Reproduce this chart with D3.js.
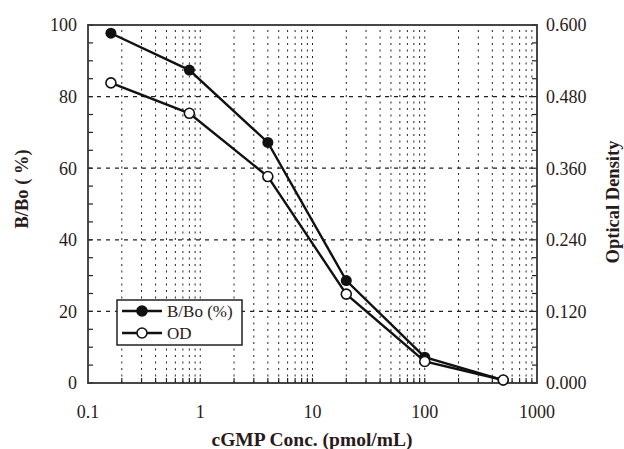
<!DOCTYPE html>
<html>
<head>
<meta charset="utf-8">
<script src="https://cdn.jsdelivr.net/npm/d3@7"></script>
<style>
  body { margin: 0; background: #fff; }
  svg { display: block; }
  text { font-family: "Liberation Serif", "Times New Roman", "DejaVu Serif", serif; fill: #2a1a1a; }
</style>
</head>
<body>
<div id="viz"></div>
<script>
// cGMP standard curve: concentration (pmol/mL) vs B/Bo and optical density
const conc = [0.16, 0.8, 4, 20, 100, 500];
const bbo = [97.7, 87.4, 67.2, 28.6, 7.2, 0.8];
const od = [0.503, 0.452, 0.346, 0.149, 0.036, 0.005];
const xTicks = [0.1, 1, 10, 100, 1000];
const yLeftTicks = [0, 20, 40, 60, 80, 100];
const yRightTicks = [0, 0.12, 0.24, 0.36, 0.48, 0.6];

const width = 624, height = 449;
const margin = { top: 25, right: 87, bottom: 66, left: 88 };
const serif = "Liberation Serif, Times New Roman, DejaVu Serif, serif";

const svg = d3.select("#viz").append("svg")
    .attr("width", width)
    .attr("height", height)
    .attr("font-family", serif);

const x = d3.scaleLog().domain([0.1, 1000]).range([margin.left, width - margin.right]);
const yL = d3.scaleLinear().domain([0, 100]).range([height - margin.bottom, margin.top]);
const yR = d3.scaleLinear().domain([0, 0.6]).range([height - margin.bottom, margin.top]);

const x0 = margin.left, x1 = width - margin.right;
const y0 = height - margin.bottom, y1 = margin.top;

// minor positions on the log axis (2..9 of each decade, plus decades)
let xGrid = [];
for (let d = 0.1; d < 1000; d *= 10) {
    for (let m = 1; m <= 9; m++) {
        const v = +(d * m).toPrecision(3);
        if (v > 0.1) xGrid.push(v);
    }
}

const grid = svg.append("g");
grid.selectAll("line.vg")
    .data(xGrid)
    .join("line")
    .attr("class", "vg")
    .attr("x1", d => x(d)).attr("x2", d => x(d))
    .attr("y1", y0).attr("y2", y1)
    .attr("stroke", "#222")
    .attr("stroke-width", 1)
    .attr("stroke-dasharray", "2,4.5");

grid.selectAll("line.hg")
    .data(yLeftTicks.slice(1, -1))
    .join("line")
    .attr("class", "hg")
    .attr("x1", x0).attr("x2", x1)
    .attr("y1", d => yL(d)).attr("y2", d => yL(d))
    .attr("stroke", "#222")
    .attr("stroke-width", 1.2)
    .attr("stroke-dasharray", "4,5");

// inward ticks
const tickLen = 5;
const minorY = d3.range(0, 101, 5);
svg.append("g").selectAll("line")
    .data(minorY)
    .join("line")
    .attr("x1", x0).attr("x2", x0 + tickLen)
    .attr("y1", d => yL(d)).attr("y2", d => yL(d))
    .attr("stroke", "#222").attr("stroke-width", 1.2);
svg.append("g").selectAll("line")
    .data(d3.range(0, 0.601, 0.03))
    .join("line")
    .attr("x1", x1).attr("x2", x1 - tickLen)
    .attr("y1", d => yR(d)).attr("y2", d => yR(d))
    .attr("stroke", "#222").attr("stroke-width", 1.2);
svg.append("g").selectAll("line")
    .data(xGrid)
    .join("line")
    .attr("x1", d => x(d)).attr("x2", d => x(d))
    .attr("y1", y0).attr("y2", y0 - tickLen)
    .attr("stroke", "#222").attr("stroke-width", 1.2);

// frame
svg.append("rect")
    .attr("x", x0).attr("y", y1)
    .attr("width", x1 - x0).attr("height", y0 - y1)
    .attr("fill", "none")
    .attr("stroke", "#333")
    .attr("stroke-width", 1.8);

// tick labels
svg.append("g").selectAll("text")
    .data(yLeftTicks)
    .join("text")
    .attr("x", x0 - 11)
    .attr("y", d => yL(d))
    .attr("dy", "0.35em")
    .attr("text-anchor", "end")
    .attr("font-size", 18)
    .text(d => d);

svg.append("g").selectAll("text")
    .data(yRightTicks)
    .join("text")
    .attr("x", x1 + 9)
    .attr("y", d => yR(d))
    .attr("dy", "0.35em")
    .attr("text-anchor", "start")
    .attr("font-size", 18)
    .text(d => d3.format(".3f")(d));

svg.append("g").selectAll("text")
    .data(xTicks)
    .join("text")
    .attr("x", d => x(d))
    .attr("y", y0 + 35)
    .attr("text-anchor", "middle")
    .attr("font-size", 18)
    .text(d => d);

// axis titles
svg.append("text")
    .attr("x", 312)
    .attr("y", 446)
    .attr("text-anchor", "middle")
    .attr("font-size", 19.5)
    .attr("font-weight", "bold")
    .text("cGMP Conc. (pmol/mL)");

svg.append("text")
    .attr("transform", "translate(28,189) rotate(-90)")
    .attr("text-anchor", "middle")
    .attr("font-size", 18.5)
    .attr("font-weight", "bold")
    .text("B/Bo ( %)");

svg.append("text")
    .attr("transform", "translate(619,202) rotate(-90)")
    .attr("text-anchor", "middle")
    .attr("font-size", 18.5)
    .attr("font-weight", "bold")
    .text("Optical Density");

// series
const lineL = d3.line().x((d, i) => x(conc[i])).y(d => yL(d));
const lineR = d3.line().x((d, i) => x(conc[i])).y(d => yR(d));

svg.append("path")
    .attr("d", lineL(bbo))
    .attr("fill", "none").attr("stroke", "#111").attr("stroke-width", 2.4);
svg.append("path")
    .attr("d", lineR(od))
    .attr("fill", "none").attr("stroke", "#111").attr("stroke-width", 2.4);

svg.append("g").selectAll("circle")
    .data(bbo)
    .join("circle")
    .attr("cx", (d, i) => x(conc[i]))
    .attr("cy", d => yL(d))
    .attr("r", 5.5)
    .attr("fill", "#111");
svg.append("g").selectAll("circle")
    .data(od)
    .join("circle")
    .attr("cx", (d, i) => x(conc[i]))
    .attr("cy", d => yR(d))
    .attr("r", 5)
    .attr("fill", "#fff").attr("stroke", "#111").attr("stroke-width", 1.6);

// legend
const legend = svg.append("g").attr("transform", "translate(117,300)");
legend.append("rect")
    .attr("width", 125).attr("height", 45)
    .attr("fill", "#fff").attr("stroke", "#222").attr("stroke-width", 1.5);
const items = [
    { label: "B/Bo (%)", filled: true },
    { label: "OD", filled: false }
];
items.forEach((it, i) => {
    const g = legend.append("g").attr("transform", `translate(0,${11 + i * 22})`);
    g.append("line").attr("x1", 5).attr("x2", 45).attr("stroke", "#111").attr("stroke-width", 2.4);
    g.append("circle").attr("cx", 25).attr("r", 5)
        .attr("fill", it.filled ? "#111" : "#fff")
        .attr("stroke", "#111").attr("stroke-width", 1.6);
    g.append("text").attr("x", 50).attr("dy", "0.35em").attr("font-size", 17).text(it.label);
});
</script>
</body>
</html>
